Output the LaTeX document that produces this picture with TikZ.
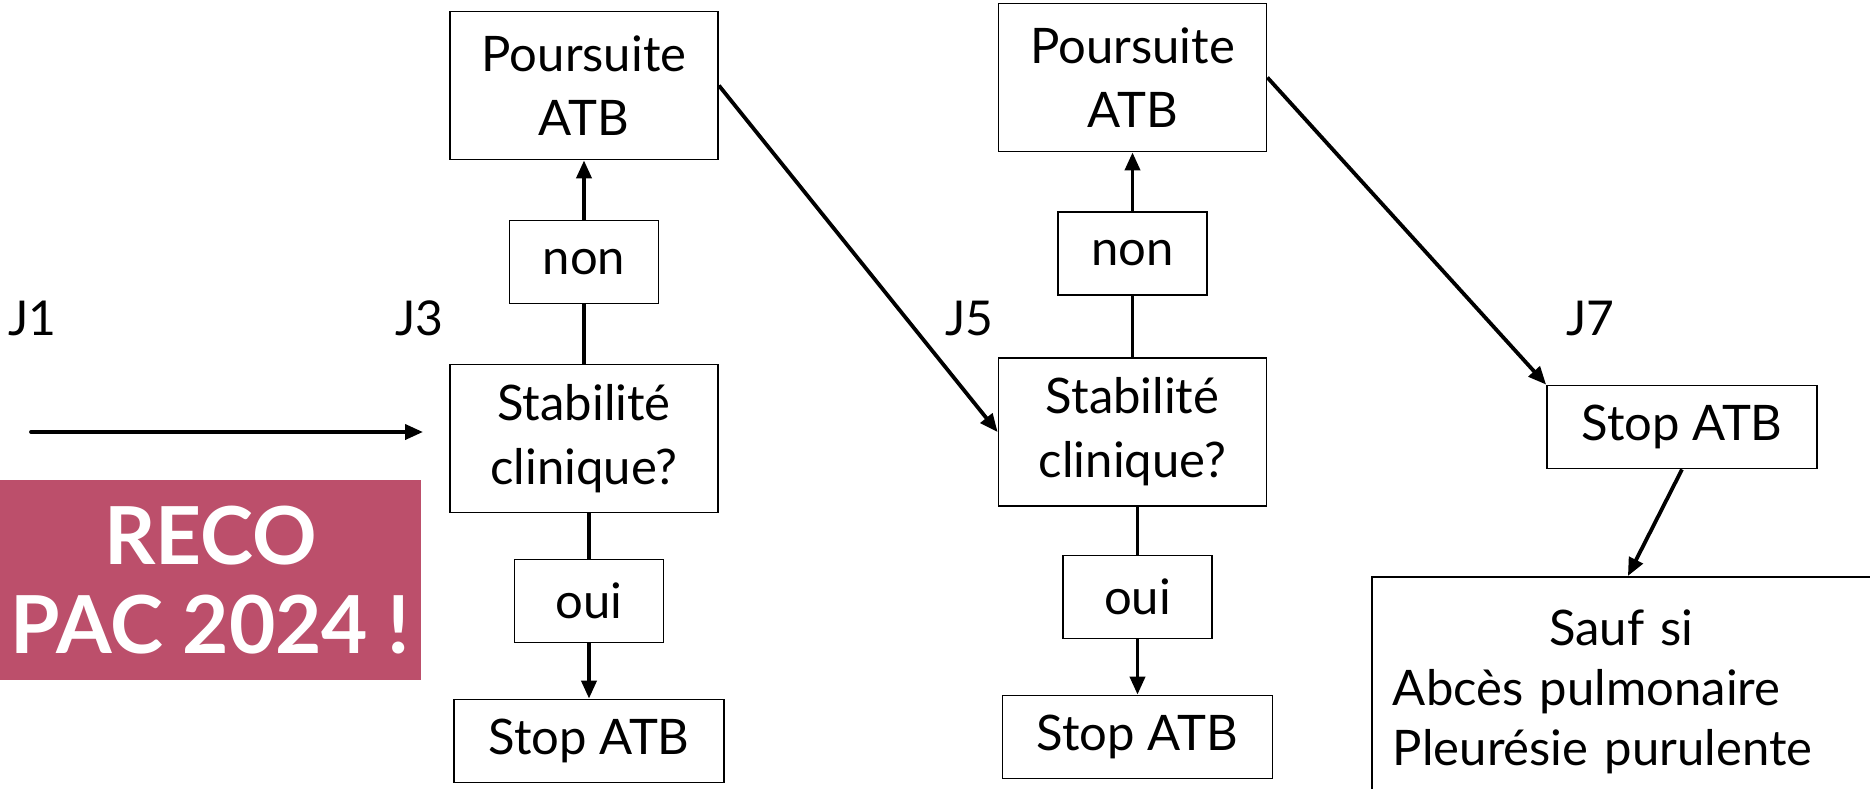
\documentclass[tikz,border=0pt]{standalone}
\usepackage{fontspec}
\setmainfont{Lato}
\usetikzlibrary{arrows.meta}
\definecolor{recorose}{RGB}{188,79,107}

\begin{document}
\begin{tikzpicture}[x=1pt,y=-1pt,>={Triangle[length=18pt,width=15pt]},
    box/.style={draw,line width=1.8pt,align=center,inner sep=0pt,
      font=\fontsize{49}{64}\selectfont},
    big/.style={box,minimum width=268pt,minimum height=148pt},
    small/.style={box,minimum width=149pt,minimum height=83pt},
    flat/.style={box,minimum width=270pt,minimum height=83pt},
    jour/.style={anchor=base west,inner sep=0pt,font=\fontsize{48}{48}\selectfont},
    link/.style={line width=3.8pt}]
    \useasboundingbox (0,0) rectangle (1870,789);

    % timeline
    \node[jour] (j1) at (8,335)    {J1};
    \node[jour] (j3) at (395,335)  {J3};
    \node[jour] (j5) at (945,335)  {J5};
    \node[jour] (j7) at (1566,335) {J7};
    \coordinate (t0) at (31,432);
    \coordinate (t1) at (423,432);
    \draw[link,line cap=round,->] (t0) -- (t1);

    \node[fill=recorose,text=white,minimum width=421pt,minimum height=200pt,
      align=center,font=\bfseries\fontsize{80}{89}\selectfont]
      (reco) at (210.5,580) {RECO\\PAC 2024 !};

    % J3
    \node[big]   (pA)    at (584,85.5)  {Poursuite\\ATB};
    \node[small] (nonA)  at (584,262)   {non};
    \node[big]   (stA)   at (584,438.5) {Stabilité\\clinique?};
    \node[small] (ouiA)  at (589,601)   {oui};
    \node[flat]  (stopA) at (589,741)   {Stop ATB};

    % J5
    \node[big]   (pB)    at (1132.5,77.5) {Poursuite\\ATB};
    \node[small] (nonB)  at (1132.5,253.5) {non};
    \node[big]   (stB)   at (1132.5,432)  {Stabilité\\clinique?};
    \node[small] (ouiB)  at (1137.5,597)  {oui};
    \node[flat]  (stopB) at (1137.5,737)  {Stop ATB};

    % J7
    \node[flat]  (stopC) at (1682,427) {Stop ATB};
    \node[draw,line width=1.8pt,anchor=north west,text width=470pt,inner xsep=21pt,
      minimum height=230pt,align=left,font=\fontsize{49}{60}\selectfont]
      (sauf) at (1371,576) {\makebox[457pt]{Sauf si}\\Abcès pulmonaire\\Pleurésie purulente};

    \draw[link,->] (nonA) -- (pA);
    \draw[link] (stA) -- (nonA);
    \draw[link] (ouiA.north |- stA.south) -- (ouiA.north);
    \draw[link,->] (ouiA) -- (stopA);
    \draw[link,->] (pA.east) -- (stB.west);

    \draw[link,->] (nonB) -- (pB);
    \draw[link] (stB) -- (nonB);
    \draw[link] (ouiB.north |- stB.south) -- (ouiB.north);
    \draw[link,->] (ouiB) -- (stopB);
    \draw[link,->] (pB.east) -- (stopC.north west);

    \draw[link,->] (stopC.south) -- (sauf.north);
\end{tikzpicture}
\end{document}
